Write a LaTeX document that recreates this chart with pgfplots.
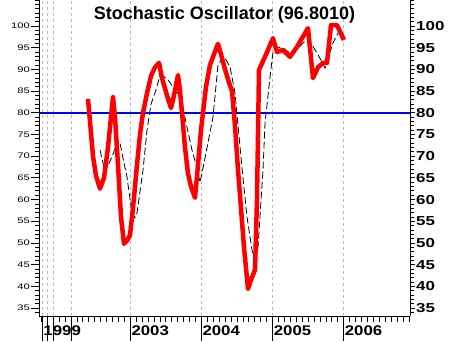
\documentclass[border=0pt]{standalone}
\usepackage{pgfplots}
\pgfplotsset{compat=1.18}
\usepackage{fontspec}
\setmainfont{Liberation Sans}
\newfontfamily\leftfont[FakeStretch=1.4]{Liberation Sans}
\newfontfamily\rightfont[FakeStretch=1.3]{Liberation Sans}
\newfontfamily\xfont[FakeStretch=1.2]{Liberation Sans}
\pgfplotsset{base/.style={width=371pt,height=316pt,scale only axis,at={(0,0)},anchor=south west,
  xmin=39,xmax=410,ymin=33.16,ymax=106,tick align=outside,
  /pgf/number format/assume math mode=true, axis line style={black, line width=0.8pt},
  tick style={black, line width=0.8pt}}}
\begin{document}
\begin{tikzpicture}
\useasboundingbox (-39pt,-25pt) rectangle (411pt,316pt);
% x axis and data
\begin{axis}[base,
  axis x line*=bottom, axis y line=none,
  xtick={42.3,47.7,53.3,71.3,130.3,201.3,272.7,343.7},
  xticklabels={1999,,,,2003,2004,2005,2006},
  minor xtick={41.38,47.308,...,409.5},
  major tick length=25pt, minor tick length=6pt,
  xmajorgrids, grid style={dashed, gray!55, line width=0.6pt},
  xticklabel style={font=\xfont\bfseries\fontsize{14}{14}\selectfont, anchor=north west, inner sep=0pt, xshift=1pt, yshift=15pt},
  ytick=\empty,
  title={\bfseries Stochastic Oscillator (96.8010)},
  title style={font=\fontsize{18}{18}\selectfont, at={(0.5,1)}, anchor=north, inner sep=0pt, yshift=-12pt},
]
\addplot[blue, line width=2pt] coordinates {(39,80) (410,80)};
\addplot[black, line width=0.8pt, dash pattern=on 7pt off 3pt] coordinates {
(100,71.4) (105,66.5) (112,69.8) (118,73.7) (120,73) (125,67.3) (126,66.8) (132,56.9) (135,55.8)
(137,56.9) (143,66.8) (147,76) (151,82) (155,84.6) (160,88.5) (163,88.5) (168,87.6) (173,86)
(177,84.8) (182,82.3) (187,76.7) (192,71.4) (197,67.3) (200,64) (202,66.1) (205,69.6) (213,79)
(218,91) (223,92.9) (225,92.6) (230,90.6) (235,84.6) (242,67.3) (247,56) (252,48.4) (255,45.6)
(258,49) (263,66.8) (265,77.6) (270,88.2) (273,94) (277,95.2) (283,94.9) (290,93.8) (297,94.5)
(303,96.1) (308,97) (312,95.6) (317,93.8) (322,91.7) (325,90.3) (328,92.6) (333,96.1) (338,98.4)
(343,99.1)};
\addplot[red, line width=4.5pt, line join=round] coordinates {
(88,83.2) (90,78) (93,70) (96,65.5) (100,62.5) (104,65) (108,72) (111,79) (113,83.6) (115,79)
(118,68) (121,56) (124,49.8) (127,50.5) (130,51.8) (133,58) (137,68) (140,75) (143,80) (147,84.5)
(151,88.5) (155,90.5) (159,91.5) (162,88) (167,84) (171,81.1) (174,84) (178,88.7) (180,85)
(182,80) (185,72) (188,66) (191,63) (195,60.4) (198,68) (201,76) (203,80) (206,86) (210,91)
(214,93.5) (218,95.9) (221,93.5) (225,90) (229,87) (232,85) (235,77) (238,66.8) (241,58)
(244,49) (248,39.4) (251,41.5) (255,43.8) (257,60) (259,89.9) (265,92.9) (273,97.2) (277,94)
(283,94.5) (290,92.9) (297,95.2) (308,99.5) (313,88) (318,90.5) (323,91.5) (327,91.5)
(331,100.2) (337,100.2) (344,96.8)};
\end{axis}
% left y axis
\begin{axis}[base,
  axis y line*=left, axis x line=none, xtick=\empty,
  ytick={35,40,...,100}, minor ytick={34,...,106},
  major tick length=8pt, minor tick length=4pt,
  yticklabel style={font=\leftfont\fontsize{8}{8}\selectfont, inner sep=1pt},
]
\end{axis}
% right y axis
\begin{axis}[base,
  axis y line*=right, axis x line=none, xtick=\empty,
  ytick={35,40,...,100}, minor ytick={34,...,106},
  major tick length=5pt, minor tick length=4pt,
  yticklabel style={font=\rightfont\bfseries\fontsize{13}{13}\selectfont, inner sep=1pt},
]
\end{axis}
\end{tikzpicture}
\end{document}
